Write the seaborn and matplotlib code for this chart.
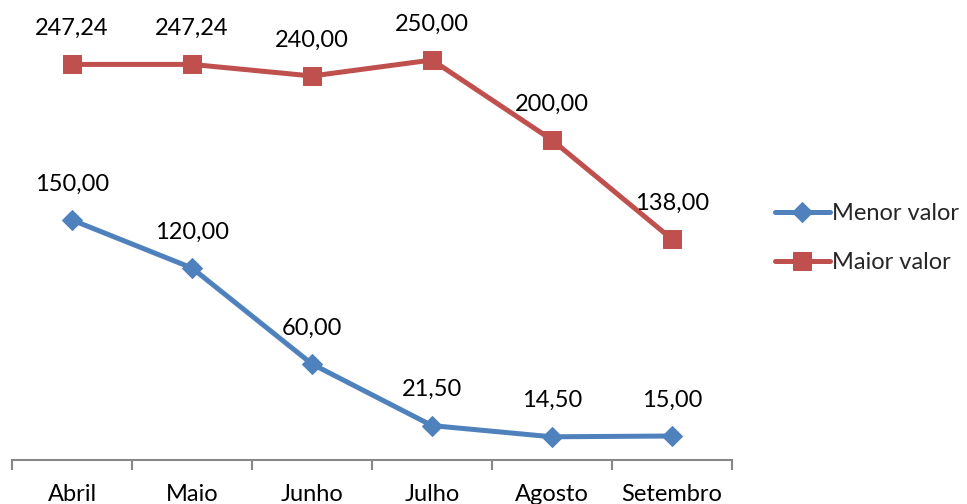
import matplotlib
matplotlib.use("Agg")
import matplotlib.pyplot as plt
import seaborn as sns
import pandas as pd
import numpy as np

meses = ["Abril", "Maio", "Junho", "Julho", "Agosto", "Setembro"]
menor_valor = [150.00, 120.00, 60.00, 21.50, 14.50, 15.00]
maior_valor = [247.24, 247.24, 240.00, 250.00, 200.00, 138.00]

sns.set_theme(style="white")
plt.rcParams["font.family"] = ["Lato", "DejaVu Sans"]

fig = plt.figure(figsize=(9.67, 5.04), dpi=100)
ax = fig.add_axes([12/967, 44/504, 720/967, 448/504])

df = pd.DataFrame({"Mês": meses * 2,
                   "Valor": menor_valor + maior_valor,
                   "Série": ["Menor valor"] * 6 + ["Maior valor"] * 6})

blue = "#4F81BD"
red = "#C0504D"
sns.lineplot(data=df[df["Série"] == "Menor valor"], x="Mês", y="Valor", ax=ax,
             color=blue, lw=3.6, marker="D", markersize=10, markeredgecolor=blue,
             sort=False, label="Menor valor")
sns.lineplot(data=df[df["Série"] == "Maior valor"], x="Mês", y="Valor", ax=ax,
             color=red, lw=3.6, marker="s", markersize=13, markeredgecolor=red,
             sort=False, label="Maior valor")

def fmt(v):
    return f"{v:.2f}".replace(".", ",")

for i, v in enumerate(menor_valor):
    ax.annotate(fmt(v), (i, v), xytext=(0, 26), textcoords="offset points",
                ha="center", va="center", fontsize=17, color="black")
for i, v in enumerate(maior_valor):
    ax.annotate(fmt(v), (i, v), xytext=(0, 26), textcoords="offset points",
                ha="center", va="center", fontsize=17, color="black")

ax.set_xlim(-0.5, 5.5)
ax.set_ylim(0, 280)
ax.set_yticks([])
ax.set_xticks(range(6))
ax.set_xticklabels(meses, fontsize=17, color="black")
ax.set_xticks(np.arange(-0.5, 6.0, 1.0), minor=True)
ax.tick_params(axis="x", which="major", length=0, pad=17)
ax.tick_params(axis="x", which="minor", length=7, width=1.5, color="#878787", bottom=True)
ax.set_xlabel("")
ax.set_ylabel("")
for s in ["top", "right", "left"]:
    ax.spines[s].set_visible(False)
ax.spines["bottom"].set_color("#878787")
ax.spines["bottom"].set_linewidth(1.5)

leg = ax.legend(loc="center left", bbox_to_anchor=(742/720, (460-238)/448), frameon=False,
                fontsize=17, handlelength=2.3, handletextpad=0.1, labelspacing=1.2)

fig.savefig("out.png", dpi=100)
